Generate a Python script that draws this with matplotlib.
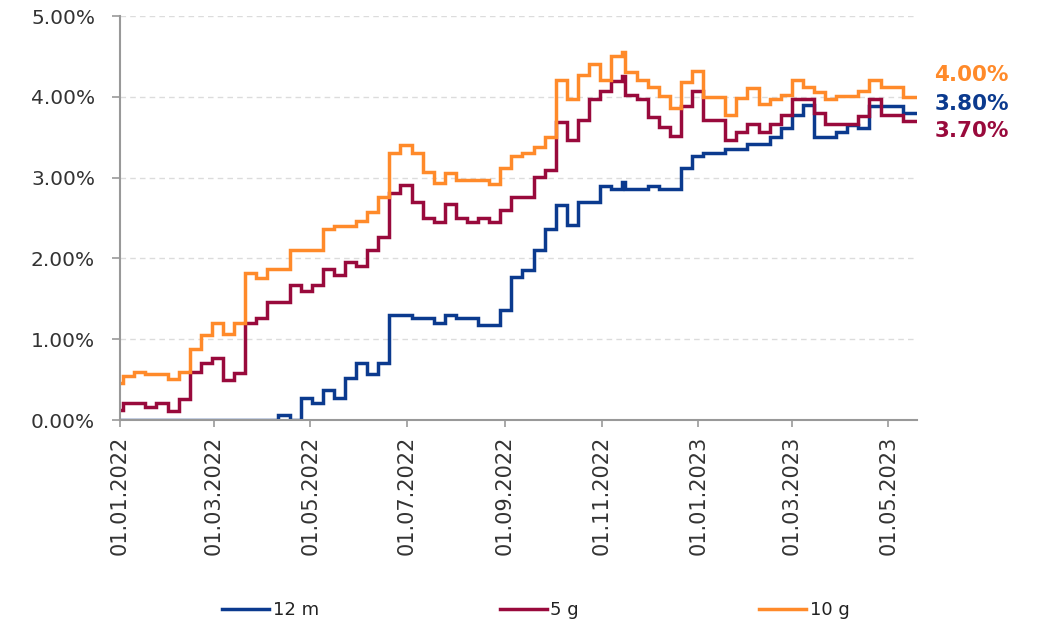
import numpy as np
import pandas as pd
import matplotlib
matplotlib.use("Agg")
import matplotlib.pyplot as plt
import matplotlib.dates as mdates
from matplotlib.ticker import FuncFormatter
from matplotlib.transforms import blended_transform_factory

# daty notowan: poniedzialki do polowy listopada 2022, potem srody, na koncu ostatni dzien
dates = list(pd.date_range("2021-12-27", "2022-11-14", freq="7D")) \
      + list(pd.date_range("2022-11-16", "2023-05-17", freq="7D")) \
      + [pd.Timestamp("2023-05-19")]

# 12 m
y12m = [0, 0, 0, 0, 0, 0, 0, 0, 0, 0, 0, 0, 0, 0, 0, 0.06, 0.0, 0.27, 0.21, 0.37,
        0.27, 0.52, 0.70, 0.57, 0.70, 1.30, 1.30, 1.26, 1.26, 1.20, 1.30, 1.26, 1.26, 1.17,
        1.17, 1.36, 1.77, 1.86, 2.10, 2.36, 2.66, 2.41, 2.70, 2.70, 2.89, 2.86, 2.95,
        2.86, 2.86, 2.89, 2.86, 2.86, 3.12, 3.27, 3.31, 3.31, 3.36, 3.36, 3.41, 3.41,
        3.50, 3.61, 3.77, 3.90, 3.50, 3.50, 3.57, 3.65, 3.61, 3.88, 3.88, 3.88, 3.80,
        3.80, 3.80]
# 5 g
y5g = [0.12, 0.21, 0.21, 0.16, 0.21, 0.11, 0.26, 0.59, 0.70, 0.77, 0.50, 0.58, 1.20,
       1.26, 1.46, 1.46, 1.67, 1.60, 1.67, 1.87, 1.80, 1.96, 1.90, 2.11, 2.26, 2.81,
       2.91, 2.70, 2.50, 2.45, 2.67, 2.50, 2.45, 2.50, 2.45, 2.60, 2.76, 2.76, 3.01,
       3.10, 3.69, 3.47, 3.71, 3.97, 4.07, 4.20, 4.26,
       4.02, 3.97, 3.75, 3.63, 3.51, 3.88, 4.07, 3.71, 3.71, 3.47, 3.57, 3.66, 3.57,
       3.66, 3.77, 3.97, 3.97, 3.80, 3.66, 3.66, 3.66, 3.76, 3.97, 3.77, 3.77, 3.70,
       3.70, 3.70]
# 10 g
y10g = [0.46, 0.54, 0.59, 0.57, 0.57, 0.51, 0.59, 0.88, 1.05, 1.20, 1.06, 1.20, 1.82,
        1.76, 1.87, 1.87, 2.11, 2.11, 2.11, 2.36, 2.40, 2.40, 2.46, 2.57, 2.76, 3.30,
        3.40, 3.31, 3.07, 2.93, 3.06, 2.97, 2.97, 2.97, 2.92, 3.12, 3.27, 3.30, 3.38,
        3.50, 4.21, 3.97, 4.27, 4.41, 4.21, 4.50, 4.56,
        4.31, 4.21, 4.12, 4.01, 3.86, 4.18, 4.32, 4.00, 4.00, 3.77, 3.98, 4.11, 3.91,
        3.97, 4.02, 4.21, 4.12, 4.06, 3.97, 4.01, 4.01, 4.07, 4.21, 4.12, 4.12, 4.00,
        4.00, 4.00]

labels = ["12 m", "5 g", "10 g"]
colors = ["#0b3a8e", "#990a3c", "#ff8a2a"]
end_text = ["3.80%", "3.70%", "4.00%"]
end_text_y = [3.91, 3.58, 4.27]

fig = plt.figure(figsize=(10.51, 6.25), dpi=100)
ax = fig.add_axes([0.1142, 0.328, 0.7583, 0.6464])

for y, lab, c in zip([y12m, y5g, y10g], labels, colors):
    ax.plot(dates, y, drawstyle="steps-post", color=c, lw=2.5, label=lab, solid_joinstyle="miter")

ax.set_xlim(pd.Timestamp("2022-01-01"), pd.Timestamp("2023-05-19"))
ax.set_ylim(0, 5)
ax.set_yticks(np.arange(0, 5.01, 1))
ax.yaxis.set_major_formatter(FuncFormatter(lambda v, p: "%.2f%%" % v))
ax.xaxis.set_major_locator(mdates.MonthLocator(bymonth=[1, 3, 5, 7, 9, 11]))
ax.xaxis.set_major_formatter(mdates.DateFormatter("%d.%m.%Y"))

ax.grid(axis="y", ls=(0, (4, 3)), color="#dcdcdc", lw=1)
ax.set_axisbelow(True)
for s in ["top", "right"]:
    ax.spines[s].set_visible(False)
for s in ["left", "bottom"]:
    ax.spines[s].set_color("#999999")
    ax.spines[s].set_linewidth(1.5)

ax.tick_params(axis="y", length=6, width=1.2, color="#999999", labelsize=14.5,
               labelcolor="#333333", pad=12)
ax.tick_params(axis="x", length=5, width=1.2, color="#999999", labelsize=15,
               labelcolor="#333333", labelrotation=90, pad=6)

# etykiety z ostatnia wartoscia
tr = blended_transform_factory(ax.transAxes, ax.transData)
for t, yy, c in zip(end_text, end_text_y, colors):
    ax.text(1.022, yy, t, transform=tr, color=c, fontsize=15.5, fontweight="bold",
            va="center", ha="left")

fig.legend(loc="center", bbox_to_anchor=(0.51, 0.024), ncol=3, frameon=False,
           fontsize=13, handlelength=2.6, handletextpad=0.2, columnspacing=10.0,
           labelcolor="#222222")

fig.savefig("out.png", dpi=100)
